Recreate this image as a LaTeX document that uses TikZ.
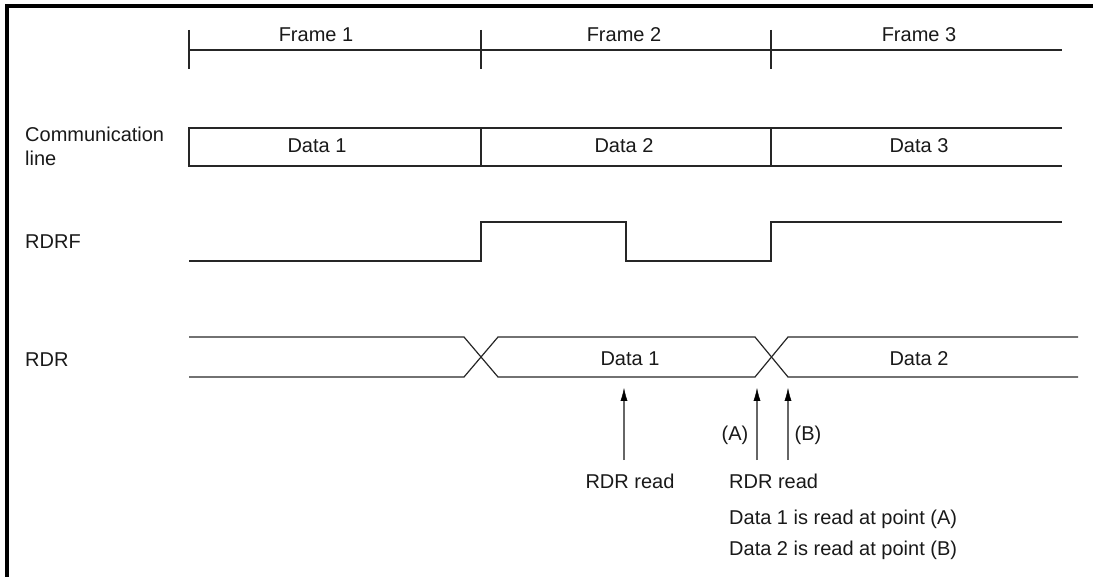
\documentclass[tikz,border=0pt]{standalone}
\usepackage{fontspec}
\setmainfont{Liberation Sans}
\usetikzlibrary{arrows.meta}
\begin{document}
\begin{tikzpicture}[x=1pt,y=-1pt,
  wave/.style={line width=1.2pt, draw=black!85, line join=miter},
  lbl/.style={font=\fontsize{20}{24}\selectfont, text=black!90, inner sep=0pt, anchor=base},
  side/.style={lbl, anchor=base west},
  readarrow/.style={line width=1.5pt, draw=black!60, -{Latex[length=13pt,width=7pt,color=black,line width=0.4pt]}}]
\useasboundingbox (0,0) rectangle (1093,577);
% frame border
\draw[line width=3.5pt] (7,577) -- (7,6) -- (1093,6);

% frame ruler
\coordinate (r0) at (189,50);
\coordinate (r3) at (1062,50);
\draw[wave] (r0) -- (r3);
\foreach \x/\n in {189/a,481/b,771/c}{
  \coordinate (t\n1) at (\x,30);
  \coordinate (t\n2) at (\x,69);
  \draw[wave] (t\n1) -- (t\n2);
}
\node[lbl] (f1) at (316,42) {Frame 1};
\node[lbl] (f2) at (624,42) {Frame 2};
\node[lbl] (f3) at (919,42) {Frame 3};

% communication line
\node[side] (cl1) at (25,142) {Communication};
\node[side] (cl2) at (25,166) {line};
\coordinate (cA) at (1062,128);
\coordinate (cB) at (189,128);
\coordinate (cC) at (189,166);
\coordinate (cD) at (1062,166);
\draw[wave] (cA) -- (cB) -- (cC) -- (cD);
\foreach \x/\n in {481/b,771/c}{
  \coordinate (cu\n) at (\x,128);
  \coordinate (cl\n) at (\x,166);
  \draw[wave] (cu\n) -- (cl\n);
}
\node[lbl] (d1) at (317,153) {Data 1};
\node[lbl] (d2) at (624,153) {Data 2};
\node[lbl] (d3) at (919,153) {Data 3};

% RDRF
\node[side] (rdrf) at (25,249) {RDRF};
\coordinate (q0) at (189,261);
\coordinate (q1) at (481,261);
\coordinate (q2) at (481,222);
\coordinate (q3) at (626,222);
\coordinate (q4) at (626,261);
\coordinate (q5) at (771,261);
\coordinate (q6) at (771,222);
\coordinate (q7) at (1062,222);
\draw[wave] (q0) -- (q1) -- (q2) -- (q3) -- (q4) -- (q5) -- (q6) -- (q7);

% RDR
\node[side] (rdr) at (25,367) {RDR};
\coordinate (u0) at (189,337);
\coordinate (l0) at (189,377);
\coordinate (u1) at (464,337);
\coordinate (l1) at (464,377);
\coordinate (u2) at (498,337);
\coordinate (l2) at (498,377);
\coordinate (u3) at (755,337);
\coordinate (l3) at (755,377);
\coordinate (u4) at (788,337);
\coordinate (l4) at (788,377);
\coordinate (u5) at (1078,337);
\coordinate (l5) at (1078,377);
\draw[wave] (u0) -- (u1) -- (l2) -- (l3) -- (u4) -- (u5);
\draw[wave] (l0) -- (l1) -- (u2) -- (u3) -- (l4) -- (l5);
\node[lbl] (rd1) at (630,366) {Data 1};
\node[lbl] (rd2) at (919,366) {Data 2};

% read arrows
\coordinate (a1s) at (624,460);
\coordinate (a1e) at (624,388);
\coordinate (aAs) at (757,460);
\coordinate (aAe) at (757,388);
\coordinate (aBs) at (788,460);
\coordinate (aBe) at (788,388);
\draw[readarrow] (a1s) -- (a1e);
\draw[readarrow] (aAs) -- (aAe);
\draw[readarrow] (aBs) -- (aBe);
\node[lbl] (pa) at (735,440) {(A)};
\node[lbl] (pb) at (808,440) {(B)};

\node[lbl] (rr1) at (630,488) {RDR read};
\node[side] (rr2) at (729,488) {RDR read};
\node[side] (n1) at (729,524) {Data 1 is read at point (A)};
\node[side] (n2) at (729,555) {Data 2 is read at point (B)};
\end{tikzpicture}
\end{document}
